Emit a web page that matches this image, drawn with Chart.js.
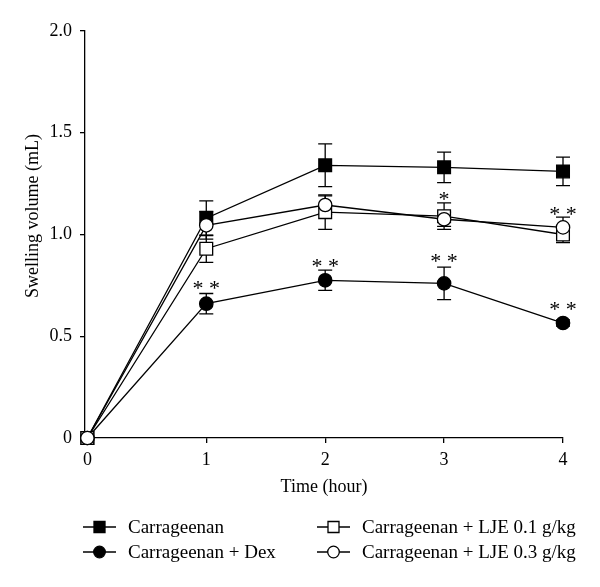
<!DOCTYPE html>
<html>
<head>
<meta charset="utf-8">
<script src="https://cdn.jsdelivr.net/npm/chart.js@4.4.1/dist/chart.umd.min.js"></script>
<style>
    html, body { margin: 0; padding: 0; background: #fff; }
    canvas { display: block; }
</style>
</head>
<body>
<canvas id="swellingChart" width="600" height="587"></canvas>
<script>
const hours = [0, 1, 2, 3, 4];
const yTickValues = [0, 0.5, 1.0, 1.5, 2.0];
const yTickLabels = ["0", "0.5", "1.0", "1.5", "2.0"];

const seriesNames = [
    "Carrageenan",
    "Carrageenan + Dex",
    "Carrageenan + LJE 0.1 g/kg",
    "Carrageenan + LJE 0.3 g/kg"
];

const carrageenan = [0, 1.08, 1.34, 1.33, 1.31];
const carrageenanErr = [0, 0.085, 0.105, 0.075, 0.07];

const dex = [0, 0.66, 0.775, 0.76, 0.565];
const dexErr = [0, 0.05, 0.05, 0.08, 0.015];

const lje01 = [0, 0.93, 1.11, 1.09, 1.0];
const lje01Err = [0, 0.067, 0.085, 0.065, 0.04];

const lje03 = [0, 1.045, 1.145, 1.075, 1.035];
const lje03Err = [0, 0.068, 0.045, 0.035, 0.05];

// significance marks (x, y position in data units, text)
const starX = [1, 2, 3, 4, 3, 4];
const starY = [0.757, 0.865, 0.889, 0.654, 1.195, 1.12];
const starText = ["* *", "* *", "* *", "* *", "*", "* *"];

const FONT = '"Liberation Serif", "DejaVu Serif", serif';

function makeSet(label, values, errors, style, filled, radius, order) {
    return {
        label,
        data: hours.map((h, i) => ({ x: h, y: values[i] })),
        errors,
        borderColor: "#000",
        borderWidth: 1.3,
        pointStyle: style,
        pointRadius: radius,
        pointHoverRadius: radius,
        pointBackgroundColor: filled ? "#000" : "#fff",
        pointBorderColor: "#000",
        pointBorderWidth: 1.3,
        tension: 0,
        fill: false,
        clip: false,
        order
    };
}

const errorBars = {
    id: "errorBars",
    beforeDatasetsDraw(chart) {
        const { ctx, scales: { x, y } } = chart;
        ctx.save();
        ctx.strokeStyle = "#000";
        ctx.lineWidth = 1.3;
        chart.data.datasets.forEach(ds => {
            ds.data.forEach((p, i) => {
                const e = ds.errors[i];
                if (!e) return;
                const px = x.getPixelForValue(p.x);
                const top = y.getPixelForValue(p.y + e);
                const bot = y.getPixelForValue(p.y - e);
                ctx.beginPath();
                ctx.moveTo(px, top); ctx.lineTo(px, bot);
                ctx.moveTo(px - 7, top); ctx.lineTo(px + 7, top);
                ctx.moveTo(px - 7, bot); ctx.lineTo(px + 7, bot);
                ctx.stroke();
            });
        });
        ctx.restore();
    }
};

const extras = {
    id: "extras",
    afterDraw(chart) {
        const { ctx, scales: { x, y } } = chart;
        ctx.save();
        ctx.fillStyle = "#000";

        // stars
        ctx.font = "22px " + FONT;
        ctx.textAlign = "center";
        ctx.textBaseline = "middle";
        starX.forEach((sx, i) => {
            ctx.fillText(starText[i], x.getPixelForValue(sx), y.getPixelForValue(starY[i]) + 5);
        });

        // y title
        ctx.save();
        ctx.translate(33, 216);
        ctx.rotate(-Math.PI / 2);
        ctx.font = "18px " + FONT;
        ctx.textAlign = "center";
        ctx.textBaseline = "middle";
        ctx.fillText("Swelling volume (mL)", 0, 0);
        ctx.restore();

        // legend
        const cols = [83, 317];
        const rows = [527, 552];
        const slots = [[0, 0], [0, 1], [1, 0], [1, 1]];
        ctx.font = "19px " + FONT;
        ctx.textAlign = "left";
        chart.data.datasets.forEach((ds, i) => {
            const lx = cols[slots[i][0]];
            const ly = rows[slots[i][1]];
            ctx.strokeStyle = "#000";
            ctx.lineWidth = 1.3;
            ctx.beginPath();
            ctx.moveTo(lx, ly); ctx.lineTo(lx + 33, ly);
            ctx.stroke();
            ctx.fillStyle = ds.pointBackgroundColor;
            ctx.beginPath();
            if (ds.pointStyle === "rect") {
                ctx.rect(lx + 16.5 - 5.5, ly - 5.5, 11, 11);
            } else {
                ctx.arc(lx + 16.5, ly, 5.8, 0, Math.PI * 2);
            }
            ctx.fill();
            ctx.stroke();
            ctx.fillStyle = "#000";
            ctx.fillText(seriesNames[i], lx + 45, ly + 1);
        });
        ctx.restore();
    }
};

new Chart(document.getElementById("swellingChart").getContext("2d"), {
    type: "line",
    data: {
        datasets: [
            makeSet(seriesNames[0], carrageenan, carrageenanErr, "rect", true, 9, 3),
            makeSet(seriesNames[1], dex, dexErr, "circle", true, 6.7, 2),
            makeSet(seriesNames[2], lje01, lje01Err, "rect", false, 9, 1),
            makeSet(seriesNames[3], lje03, lje03Err, "circle", false, 6.7, 0)
        ]
    },
    options: {
        responsive: false,
        animation: false,
        events: [],
        layout: { padding: { top: 31, right: 37, bottom: 89, left: 0 } },
        plugins: {
            legend: { display: false },
            tooltip: { enabled: false }
        },
        scales: {
            x: {
                type: "linear",
                min: -0.02,
                max: 4,
                afterBuildTicks: s => { s.ticks = hours.map(v => ({ value: v })); },
                afterFit: s => { s.height = 60; },
                border: { color: "#000", width: 1.3 },
                grid: { drawOnChartArea: false, drawTicks: true, tickLength: 5, color: "#000", lineWidth: 1.3 },
                ticks: { color: "#000", padding: 6, font: { family: FONT, size: 18 } },
                title: {
                    display: true,
                    text: "Time (hour)",
                    color: "#000",
                    font: { family: FONT, size: 18 },
                    padding: { top: 0, bottom: 0 }
                }
            },
            y: {
                min: 0,
                max: 2,
                afterBuildTicks: s => { s.ticks = yTickValues.map(v => ({ value: v })); },
                afterFit: s => { s.width = 85; },
                border: { color: "#000", width: 1.3 },
                grid: { drawOnChartArea: false, drawTicks: true, tickLength: 5, color: "#000", lineWidth: 1.3 },
                ticks: {
                    color: "#000",
                    padding: 8,
                    font: { family: FONT, size: 18 },
                    callback: (v, i) => yTickLabels[i]
                }
            }
        }
    },
    plugins: [errorBars, extras]
});
</script>
</body>
</html>
